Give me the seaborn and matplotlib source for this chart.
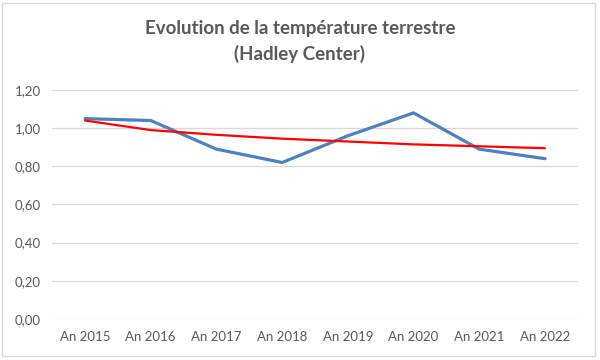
import matplotlib
matplotlib.use("Agg")
import matplotlib.pyplot as plt
import matplotlib.patches as mpatches
from matplotlib.ticker import FuncFormatter
import seaborn as sns
import pandas as pd

annees = ['An 2015', 'An 2016', 'An 2017', 'An 2018',
          'An 2019', 'An 2020', 'An 2021', 'An 2022']
temperature = [1.05, 1.04, 0.89, 0.82, 0.96, 1.08, 0.89, 0.84]
tendance = [1.04, 0.99, 0.965, 0.945, 0.93, 0.915, 0.905, 0.895]

df = pd.DataFrame({'annee': annees, 'temp': temperature, 'tend': tendance})

sns.set_style("white")
plt.rcParams['font.family'] = ['Lato', 'DejaVu Sans']

gris = '#595959'

fig = plt.figure(figsize=(6, 3.6), dpi=100)
ax = fig.add_axes([0.087, 0.114, 0.876, 0.636])

sns.lineplot(data=df, x='annee', y='temp', ax=ax, color='#4F81BD',
             linewidth=2.3, sort=False)
sns.lineplot(data=df, x='annee', y='tend', ax=ax, color='#FF0000',
             linewidth=1.6, sort=False)

ax.set_xlim(-0.5, len(annees) - 0.5)
ax.set_ylim(0, 1.2)
ax.set_yticks([0, 0.2, 0.4, 0.6, 0.8, 1.0, 1.2])
ax.yaxis.set_major_formatter(FuncFormatter(lambda v, p: f'{v:.2f}'.replace('.', ',')))
ax.grid(axis='y', color='#D9D9D9', linewidth=0.9)
ax.set_axisbelow(True)
for s in ax.spines.values():
    s.set_visible(False)
ax.tick_params(axis='both', length=0, labelsize=9.5, labelcolor=gris, pad=8)
ax.tick_params(axis='x', pad=9)
ax.set_xlabel('')
ax.set_ylabel('')

fig.text(0.5, 0.884, 'Evolution de la température terrestre\n(Hadley Center)',
         ha='center', va='center', fontsize=13.5, fontweight='bold',
         color=gris, linespacing=1.55)

# cadre du graphique
fig.patches.append(mpatches.Rectangle((0.004, 0.012), 0.988, 0.98,
                                      transform=fig.transFigure, fill=False,
                                      edgecolor='#D9D9D9', linewidth=1))

fig.savefig('out.png', dpi=100)
